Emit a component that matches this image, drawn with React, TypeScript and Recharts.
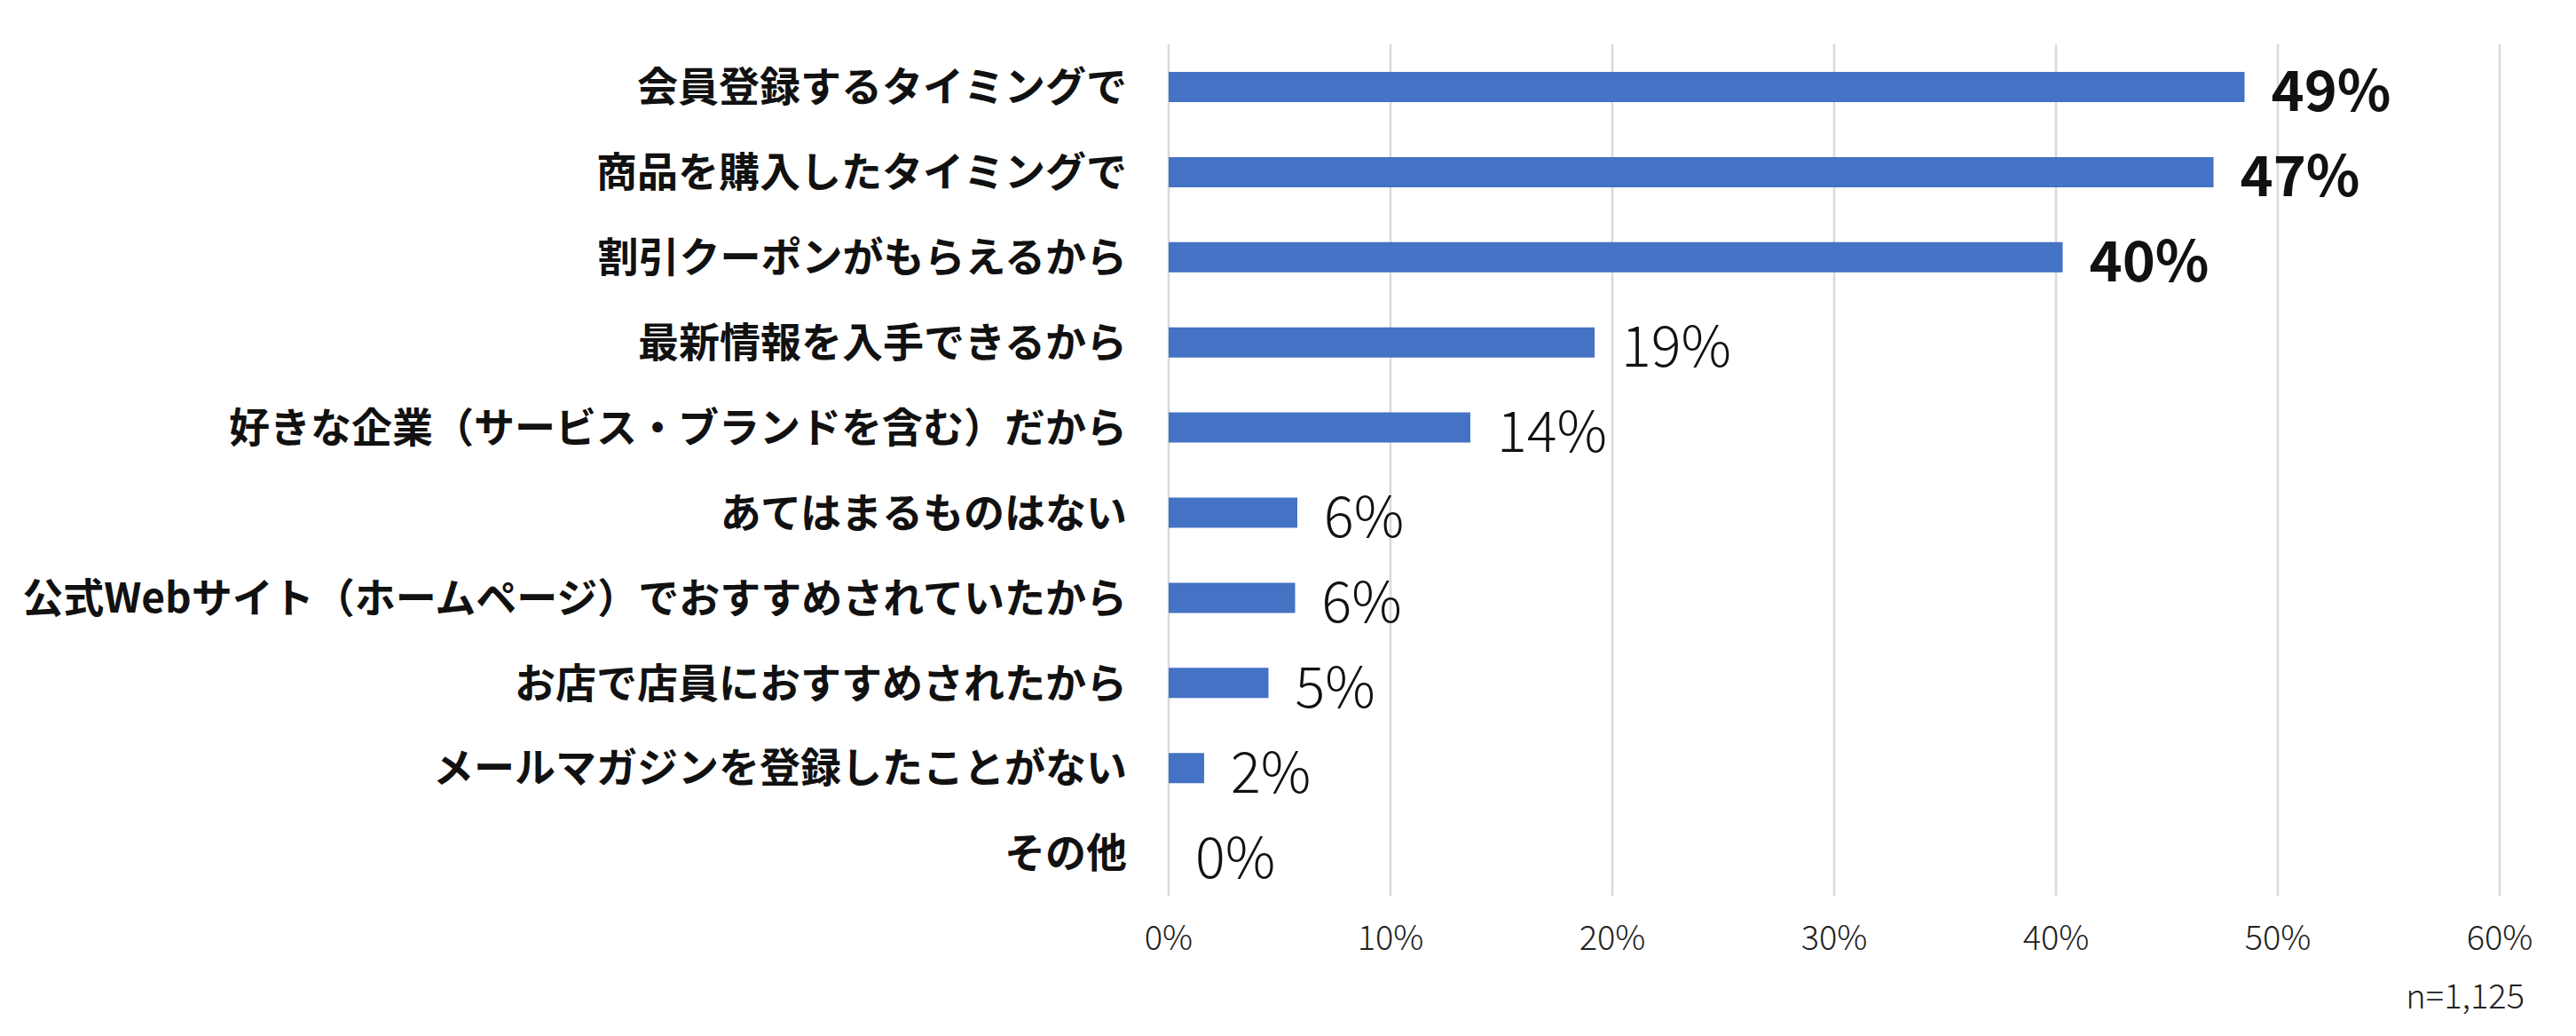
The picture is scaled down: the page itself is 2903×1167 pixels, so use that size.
import React from "react";
import { ComposedChart, Bar, Line, XAxis, YAxis, CartesianGrid, LabelList } from "recharts";

const categories = [
  "会員登録するタイミングで",
  "商品を購入したタイミングで",
  "割引クーポンがもらえるから",
  "最新情報を入手できるから",
  "好きな企業（サービス・ブランドを含む）だから",
  "あてはまるものはない",
  "公式Webサイト（ホームページ）でおすすめされていたから",
  "お店で店員におすすめされたから",
  "メールマガジンを登録したことがない",
  "その他",
];
const values = [48.5, 47.1, 40.3, 19.2, 13.6, 5.8, 5.7, 4.5, 1.6, 0];
const valueLabels = ["49%", "47%", "40%", "19%", "14%", "6%", "6%", "5%", "2%", "0%"];
const boldLabels = [true, true, true, false, false, false, false, false, false, false];
const xTicks = [0, 10, 20, 30, 40, 50, 60];
const sampleNote = "n=1,125";

const FONT = '"Noto Sans CJK JP", "Noto Sans", sans-serif';

const data = categories.map((name, i) => ({
  name,
  value: values[i],
  label: valueLabels[i],
  bold: boldLabels[i],
}));

// labels hang off an invisible line so the 0% row gets one too
function ValueLabel(props: any) {
  const { x, y, index } = props;
  const d = data[index];
  return (
    <text
      x={x + 30}
      y={y}
      dominantBaseline="central"
      fontFamily={FONT}
      fontSize={63}
      fontWeight={d.bold ? 700 : 300}
      fill="#111"
    >
      {d.label}
    </text>
  );
}

export default function App() {
  return (
    <div
      style={{
        position: "absolute",
        left: 0,
        top: 0,
        width: 2903,
        height: 1167,
        background: "#fff",
        fontFamily: FONT,
      }}
    >
      <ComposedChart
        width={2903}
        height={1167}
        data={data}
        layout="vertical"
        margin={{ top: 50, right: 86, bottom: 0, left: 0 }}
      >
        <CartesianGrid horizontal={false} stroke="#d9d9d9" strokeWidth={2.5} />
        <XAxis
          type="number"
          domain={[0, 60]}
          ticks={xTicks}
          interval={0}
          height={158}
          axisLine={false}
          tickLine={false}
          tickSize={0}
          tickMargin={34}
          tickFormatter={(v: number) => `${v}%`}
          tick={{ fontSize: 38, fontWeight: 300, fill: "#222", fontFamily: FONT }}
        />
        <YAxis
          type="category"
          dataKey="name"
          width={1317}
          interval={0}
          axisLine={false}
          tickLine={false}
          tickSize={0}
          tickMargin={47}
          tick={{ fontSize: 46, fontWeight: 700, fill: "#111", fontFamily: FONT }}
        />
        <Bar dataKey="value" fill="#4472C4" barSize={34} isAnimationActive={false} />
        <Line
          dataKey="value"
          stroke="none"
          dot={false}
          activeDot={false}
          isAnimationActive={false}
        >
          <LabelList dataKey="value" content={<ValueLabel />} />
        </Line>
      </ComposedChart>
      <div
        style={{
          position: "absolute",
          right: 58,
          top: 1099,
          fontSize: 38,
          lineHeight: "42px",
          fontWeight: 300,
          color: "#222",
        }}
      >
        {sampleNote}
      </div>
    </div>
  );
}
